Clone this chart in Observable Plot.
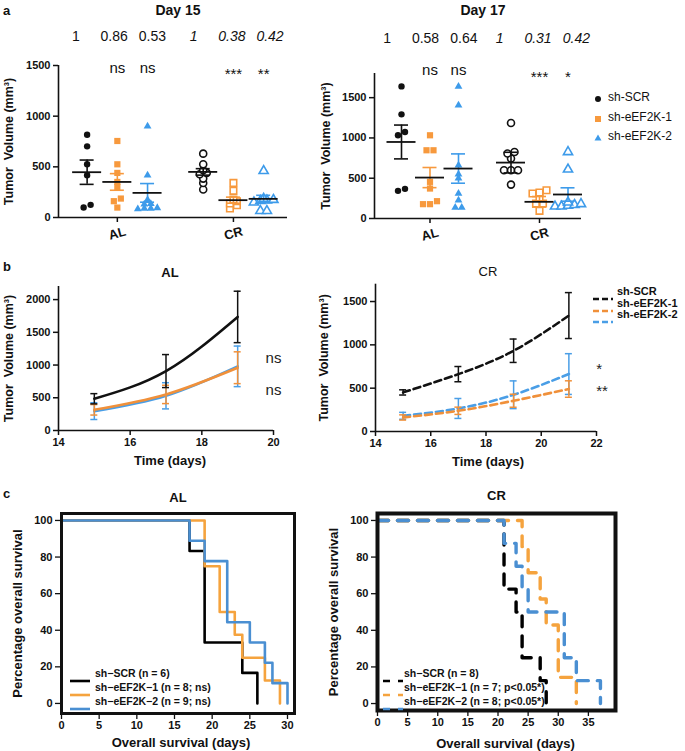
<!DOCTYPE html>
<html><head><meta charset="utf-8">
<script src="https://cdn.jsdelivr.net/npm/d3@7"></script>
<script src="https://cdn.jsdelivr.net/npm/@observablehq/plot@0.6"></script>
<style>
body{margin:0;background:#fff;font-family:"Liberation Sans",Arial,sans-serif;color:#111;}
#root{position:relative;width:685px;height:751px;overflow:hidden;background:#fff;}
</style></head><body><div id="root"></div>
<script>
// ---------- DATA ----------
const SERIES = ["sh-SCR", "sh-eEF2K-1", "sh-eEF2K-2"];
const GROUPS = ["AL", "CR"];
const COL_A = ["#111111", "#F7993D", "#3D9BEA"];
const COL_B = ["#111111", "#F0903A", "#4A9EE6"];
const COL_C = ["#000000", "#F5A33E", "#4A8FD2"];

// Panel a - Day 15 tumour volumes (mm3)
const d15_AL = [[817, 702, 525, 417, 125, 98], [755, 525, 440, 351, 300, 187, 161, 98], [900, 417, 175, 135, 130, 95, 90, 90, 85]];
const d15_CR = [[630, 525, 466, 440, 427, 384, 341, 276], [341, 263, 177, 160, 138, 121, 89], [460, 185, 175, 170, 165, 150, 66, 66]];
const d15_mean = [[447, 351, 243], [450, 171, 184]];
const d15_sem = [[120, 82, 92], [32, 30, 35]];
const d15_ratio = [["1", "0.86", "0.53"], ["1", "0.38", "0.42"]];
const d15_sig = [["", "ns", "ns"], ["", "***", "**"]];

// Panel a - Day 17
const d17_AL = [[1640, 1293, 1074, 1033, 368, 343], [1033, 847, 847, 455, 372, 215, 178, 178], [1640, 1405, 661, 550, 500, 310, 227, 136, 136]];
const d17_CR = [[1186, 826, 806, 744, 599, 599, 599, 421], [351, 322, 310, 260, 186, 186, 95], [826, 610, 200, 180, 170, 160, 150, 150]];
const d17_mean = [[950, 508, 620], [694, 207, 298]];
const d17_sem = [[210, 125, 182], [128, 66, 83]];
const d17_ratio = [["1", "0.58", "0.64"], ["1", "0.31", "0.42"]];
const d17_sig = [["", "ns", "ns"], ["", "***", "*"]];

// Panel b - growth curves
const bAL_days = [15, 17, 19];
const bAL_mean = [[485, 908, 1735], [316, 551, 959], [296, 530, 980]];
const bAL_sem = [[78, 252, 393], [80, 140, 243], [128, 200, 310]];
const bCR_days = [15, 17, 19, 21];
const bCR_mean = [[451, 662, 932, 1338], [162, 239, 355, 490], [181, 266, 424, 663]];
const bCR_sem = [[30, 88, 135, 265], [30, 42, 75, 95], [40, 115, 160, 235]];

// Panel c - Kaplan-Meier survival (%)
const cAL_t = [[0, 17, 19, 24, 26], [0, 19, 21, 23, 24, 27, 29], [0, 17, 19, 22, 25, 27, 28, 30]];
const cAL_s = [[100, 83.3, 33.3, 16.7, 0], [100, 75, 50, 37.5, 25, 12.5, 0], [100, 88.9, 77.8, 44.4, 33.3, 22.2, 11.1, 0]];
const cCR_t = [[0, 21, 23, 24, 27, 28], [0, 24, 25, 27, 28, 30, 33], [0, 21, 23, 24, 25, 31, 33, 37]];
const cCR_s = [[100, 62.5, 50, 25, 12.5, 0], [100, 85.7, 71.4, 57.1, 42.9, 14.3, 0], [100, 87.5, 75, 62.5, 50, 25, 12.5, 0]];
const cAL_legend = ["sh\u2212SCR (n = 6)", "sh\u2212eEF2K\u22121 (n = 8; ns)", "sh\u2212eEF2K\u22122 (n = 9; ns)"];
const cCR_legend = ["sh\u2212SCR (n = 8)", "sh\u2212eEF2K\u22121 (n = 7; p<0.05*)", "sh\u2212eEF2K\u22122 (n = 8; p<0.05*)"];

// ---------- HELPERS ----------
const root = document.getElementById("root");
const FONT = "Liberation Sans, Arial, sans-serif";
const fmtInt = d3.format("d");
function place(el, left, top) {
  el.style.position = "absolute"; el.style.left = left + "px"; el.style.top = top + "px";
  root.appendChild(el);
}
function addText(txt, left, cy, css) {
  const d = document.createElement("div");
  d.textContent = txt;
  d.style.cssText = `position:absolute;left:${left}px;top:${cy}px;transform:translateY(-50%);white-space:nowrap;line-height:1;${css}`;
  root.appendChild(d);
  return d;
}
function addSvg(inner, left, top, w, h) {
  const d = document.createElement("div");
  d.style.cssText = `position:absolute;left:${left}px;top:${top}px;width:${w}px;height:${h}px;`;
  d.innerHTML = `<svg width="${w}" height="${h}" xmlns="http://www.w3.org/2000/svg">${inner}</svg>`;
  root.appendChild(d);
}
// deterministic centred swarm rows derived from the values
function swarm(vals, ky, rowPx, sp) {
  const sorted = vals.slice().sort((a, b) => a - b);
  const rows = []; let cur = null;
  for (const v of sorted) {
    if (!cur || (v - cur.start) * ky > rowPx) { cur = {start: v, items: []}; rows.push(cur); }
    cur.items.push(v);
  }
  const out = [];
  for (const r of rows) r.items.forEach((v, i) => out.push({v, off: (i - (r.items.length - 1) / 2) * sp}));
  return out;
}
const baseStyle = {fontFamily: FONT, fontSize: "11px", color: "#111", background: "transparent", overflow: "visible"};
const TXT = {textAnchor: "middle", lineAnchor: "middle"};

// ---------- PANEL A ----------
const SYMS = ["circle", "square", "triangle"];
const RAD_F = [3.2, 3.5, 2.9];
const RAD_O = [3.5, 3.7, 3.4];
const SPACING = [7, 7, 6.5];
function panelA(o) {
  const kx = (o.W - o.mL - o.mR) / o.xMax;
  const ky = (o.H - o.mT - o.mB) / o.yMax;
  const centers = [1.85, 5.5], step = 0.95;
  const pts = [], stats = [], labs = [];
  [o.AL, o.CR].forEach((grp, gi) => grp.forEach((vals, si) => {
    const pos = centers[gi] + (si - 1) * step;
    swarm(vals, ky, 3.5, SPACING[si]).forEach(p => pts.push({x: pos + p.off / kx, y: p.v, si, open: gi === 1}));
    stats.push({pos, si, m: o.mean[gi][si], e: o.sem[gi][si]});
    labs.push({pos, rpos: centers[gi] + o.ratioShift[gi] + (si - 1) * o.ratioStep, gi, ratio: o.ratio[gi][si], sig: o.sig[gi][si]});
  }));
  const hw = 14.5 / kx, cw = 7 / kx;
  const marks = [
    Plot.ruleX([0], {y1: 0, y2: o.yTop, strokeWidth: 1.6}),
    Plot.ruleY([0], {x1: 0, x2: o.xMax, strokeWidth: 1.6}),
    Plot.axisY({ticks: o.yTicks, tickFormat: fmtInt, tickSize: 5, tickPadding: 3, strokeWidth: 1.5, fontSize: 11, fontWeight: "bold", label: null}),
    Plot.axisX({ticks: centers, tickSize: 5, strokeWidth: 1.5, tickFormat: () => "", label: null}),
    Plot.text(GROUPS, {x: d => centers[GROUPS.indexOf(d)], text: d => d, frameAnchor: "bottom", dy: 16, rotate: -15, fontSize: 13, fontWeight: "bold", ...TXT})
  ];
  SERIES.forEach((name, si) => {
    marks.push(Plot.dot(pts.filter(p => p.si === si && !p.open), {x: "x", y: "y", symbol: SYMS[si], r: RAD_F[si], fill: COL_A[si], stroke: "none"}));
    marks.push(Plot.dot(pts.filter(p => p.si === si && p.open), {x: "x", y: "y", symbol: SYMS[si], r: RAD_O[si], fill: "white", stroke: COL_A[si], strokeWidth: 1.6}));
  });
  SERIES.forEach((name, si) => {
    const st = stats.filter(s => s.si === si);
    marks.push(Plot.ruleX(st, {x: "pos", y1: d => d.m - d.e, y2: d => d.m + d.e, stroke: COL_A[si], strokeWidth: 1.6}));
    marks.push(Plot.ruleY(st, {y: d => d.m + d.e, x1: d => d.pos - cw, x2: d => d.pos + cw, stroke: COL_A[si], strokeWidth: 1.6}));
    marks.push(Plot.ruleY(st, {y: d => d.m - d.e, x1: d => d.pos - cw, x2: d => d.pos + cw, stroke: COL_A[si], strokeWidth: 1.6}));
    marks.push(Plot.ruleY(st, {y: "m", x1: d => d.pos - hw, x2: d => d.pos + hw, stroke: "#111", strokeWidth: 1.8}));
  });
  marks.push(
    Plot.text([o.title], {text: d => d, frameAnchor: "top", dx: o.titleDx, dy: o.titleDy, fontSize: 14, fontWeight: "bold", ...TXT}),
    Plot.text(labs.filter(l => l.gi === 0), {x: "rpos", text: "ratio", frameAnchor: "top", dy: o.ratioDy, fontSize: 14, ...TXT}),
    Plot.text(labs.filter(l => l.gi === 1), {x: "rpos", text: "ratio", frameAnchor: "top", dy: o.ratioDy, fontSize: 14, fontStyle: "italic", ...TXT}),
    Plot.text(labs.filter(l => l.sig === "ns"), {x: "pos", text: "sig", frameAnchor: "top", dy: o.nsDy, fontSize: 15, ...TXT}),
    Plot.text(labs.filter(l => l.sig.startsWith("*")), {x: "pos", text: "sig", frameAnchor: "top", dy: o.starDy, fontSize: 15, ...TXT}),
    Plot.text(["Tumor  Volume (mm\u00B3)"], {text: d => d, frameAnchor: "left", dx: o.ylabDx, rotate: -90, fontSize: 12.5, fontWeight: "bold", ...TXT})
  );
  return Plot.plot({
    width: o.W, height: o.H, marginLeft: o.mL, marginRight: o.mR, marginTop: o.mT, marginBottom: o.mB,
    x: {domain: [0, o.xMax]}, y: {domain: [0, o.yMax]}, style: baseStyle, marks
  });
}

place(panelA({W: 300, H: 245, mL: 58, mR: 13, mT: 65, mB: 28, xMax: 7.2, yMax: 1500, yTop: 1500, yTicks: [0, 500, 1000, 1500],
  AL: d15_AL, CR: d15_CR, mean: d15_mean, sem: d15_sem, ratio: d15_ratio, sig: d15_sig,
  ratioStep: 1.2, ratioShift: [-0.1, -0.05],
  title: "Day 15", titleDx: 5, titleDy: -55, ratioDy: -29, nsDy: 3, starDy: 9, ylabDx: -50}), 0, 0);
place(panelA({W: 385, H: 245, mL: 74, mR: 104, mT: 73, mB: 27, xMax: 6.9, yMax: 1800, yTop: 1800, yTicks: [0, 500, 1000, 1500],
  AL: d17_AL, CR: d17_CR, mean: d17_mean, sem: d17_sem, ratio: d17_ratio, sig: d17_sig,
  ratioStep: 1.28, ratioShift: [-0.15, -0.05],
  title: "Day 17", titleDx: 5, titleDy: -63, ratioDy: -35, nsDy: -3, starDy: 4, ylabDx: -49}), 300, 0);

// legend a
SERIES.forEach((name, si) => {
  const cy = [97, 117, 136][si];
  const sym = si === 0 ? `<circle cx="6" cy="6" r="3" fill="${COL_A[0]}"/>` :
    si === 1 ? `<rect x="3" y="3" width="6" height="6" fill="${COL_A[1]}"/>` :
    `<path d="M6,2.5 L9.5,8.5 L2.5,8.5 Z" fill="${COL_A[2]}"/>`;
  addSvg(sym, 592, cy - 6, 12, 12);
  addText(name, 608, cy, "font-size:12px;");
});

// ---------- PANEL B ----------
function panelB(o) {
  const kx = (o.W - o.mL - o.mR) / (o.xMax - o.xMin);
  const cw = 3.5 / kx;
  const marks = [
    Plot.ruleX([o.xMin], {y1: 0, y2: o.yMax, strokeWidth: 1.6}),
    Plot.ruleY([0], {x1: o.xMin, x2: o.xMax, strokeWidth: 1.6}),
    Plot.axisY({ticks: o.yTicks, tickFormat: fmtInt, tickSize: 5, tickPadding: 3, strokeWidth: 1.5, fontSize: 11, fontWeight: "bold", label: null}),
    Plot.axisX({ticks: o.xTicks, tickFormat: fmtInt, tickSize: 5, tickPadding: 3, strokeWidth: 1.5, fontSize: 11, fontWeight: "bold", label: null})
  ];
  [2, 1, 0].forEach(si => {
    const rows = o.days.map((t, i) => ({t, m: o.mean[si][i], e: o.sem[si][i]}));
    const c = COL_B[si];
    marks.push(Plot.ruleX(rows, {x: "t", y1: d => d.m - d.e, y2: d => d.m + d.e, stroke: c, strokeWidth: 1.5}));
    marks.push(Plot.ruleY(rows, {y: d => d.m + d.e, x1: d => d.t - cw, x2: d => d.t + cw, stroke: c, strokeWidth: 1.5}));
    marks.push(Plot.ruleY(rows, {y: d => d.m - d.e, x1: d => d.t - cw, x2: d => d.t + cw, stroke: c, strokeWidth: 1.5}));
    marks.push(Plot.line(rows, {x: "t", y: "m", stroke: c, strokeWidth: 2.6, curve: "natural", strokeDasharray: o.dash}));
  });
  marks.push(
    Plot.text([o.title], {text: d => d, frameAnchor: "top", dx: o.titleDx, dy: o.titleDy, fontSize: 13, fontWeight: o.titleWeight, ...TXT}),
    Plot.text(["Time (days)"], {text: d => d, frameAnchor: "bottom", dx: o.titleDx, dy: 30, fontSize: 13, fontWeight: "bold", ...TXT}),
    Plot.text(["Tumor  Volume (mm\u00B3)"], {text: d => d, frameAnchor: "left", dx: o.ylabDx, rotate: -90, fontSize: 12.5, fontWeight: "bold", ...TXT}),
    Plot.text(o.sigs, {x: "x", y: "y", text: "t", fontSize: 15, fill: "#222", ...TXT})
  );
  return Plot.plot({
    width: o.W, height: o.H, marginLeft: o.mL, marginRight: o.mR, marginTop: o.mT, marginBottom: o.mB,
    x: {domain: [o.xMin, o.xMax]}, y: {domain: [0, o.yMax]}, style: baseStyle, marks
  });
}
place(panelB({W: 300, H: 230, mL: 58, mR: 27, mT: 41, mB: 45, xMin: 14, xMax: 20, yMax: 2200,
  yTicks: [0, 500, 1000, 1500, 2000], xTicks: [14, 16, 18, 20], days: bAL_days, mean: bAL_mean, sem: bAL_sem,
  dash: null, title: "AL", titleWeight: "bold", titleDx: 4, titleDy: -14, ylabDx: -50,
  sigs: [{x: 20, y: 1100, t: "ns"}, {x: 20, y: 620, t: "ns"}]}), 0, 245);
place(panelB({W: 385, H: 230, mL: 75, mR: 89, mT: 38.7, mB: 44, xMin: 14, xMax: 22, yMax: 1700,
  yTicks: [0, 500, 1000, 1500], xTicks: [14, 16, 18, 20, 22], days: bCR_days, mean: bCR_mean, sem: bCR_sem,
  dash: "7,4", title: "CR", titleWeight: "normal", titleDx: 2, titleDy: -12, ylabDx: -52,
  sigs: [{x: 22.1, y: 720, t: "*"}, {x: 22.2, y: 470, t: "**"}]}), 300, 245);

// legend b
SERIES.forEach((name, si) => {
  const cy = [291, 302.5, 314][si];
  addSvg(`<line x1="0" y1="3" x2="20" y2="3" stroke="${COL_B[si]}" stroke-width="2.6" stroke-dasharray="6,3"/>`, 593, cy - 3, 20, 6);
  addText(name, 617, cy, "font-size:11px;font-weight:bold;");
});

// ---------- PANEL C ----------
function panelC(o) {
  const marks = [
    Plot.axisX({ticks: o.xTicks, tickFormat: fmtInt, tickSize: 6, tickPadding: 2, strokeWidth: 1.3, fontSize: 11, fontWeight: "bold", label: null}),
    Plot.axisY({ticks: [0, 20, 40, 60, 80, 100], tickFormat: fmtInt, tickSize: 6, tickPadding: 3, strokeWidth: 1.3, fontSize: 11, fontWeight: "bold", label: null})
  ];
  [0, 1, 2].forEach(si => {
    const rows = o.t[si].map((t, i) => ({t, s: o.s[si][i]}));
    marks.push(Plot.line(rows, {x: "t", y: "s", curve: "step-after", stroke: COL_C[si], strokeWidth: o.lw, strokeDasharray: o.dash}));
  });
  marks.push(
    Plot.frame({strokeWidth: o.frameW}),
    Plot.text([o.title], {text: d => d, frameAnchor: "top", dy: o.titleDy, fontSize: 13, fontWeight: "bold", ...TXT}),
    Plot.text(["Overall survival (days)"], {text: d => d, frameAnchor: "bottom", dx: o.xlabDx, dy: o.xlabDy, fontSize: 13, fontWeight: "bold", ...TXT}),
    Plot.text(["Percentage overall survival"], {text: d => d, frameAnchor: "left", dx: -44, rotate: -90, fontSize: 13, fontWeight: "bold", ...TXT})
  );
  return Plot.plot({
    width: o.W, height: o.H, marginLeft: o.mL, marginRight: o.mR, marginTop: o.mT, marginBottom: o.mB,
    x: {domain: o.xDomain}, y: {domain: o.yDomain}, style: baseStyle, marks
  });
}
place(panelC({W: 300, H: 271, mL: 61, mR: 6, mT: 33, mB: 38, xDomain: [0, 30.93], yDomain: [-5.5, 103.8],
  xTicks: [0, 5, 10, 15, 20, 25, 30], t: cAL_t, s: cAL_s, lw: 2.6, dash: null, frameW: 3,
  title: "AL", titleDy: -16, xlabDx: 3, xlabDy: 29}), 0, 480);
place(panelC({W: 385, H: 271, mL: 77, mR: 70, mT: 33, mB: 41, xDomain: [0, 39.5], yDomain: [-3.8, 103.8],
  xTicks: [0, 5, 10, 15, 20, 25, 30, 35], t: cCR_t, s: cCR_s, lw: 3.4, dash: "11,9", frameW: 4,
  title: "CR", titleDy: -18, xlabDx: 9, xlabDy: 33}), 300, 480);

// legends c
cAL_legend.forEach((txt, si) => {
  const cy = [673, 687, 700.5][si];
  addSvg(`<line x1="0" y1="3" x2="20" y2="3" stroke="${COL_C[si]}" stroke-width="2.6"/>`, 70, cy - 3, 20, 6);
  addText(txt, 95, cy, "font-size:10.5px;font-weight:bold;");
});
cCR_legend.forEach((txt, si) => {
  const cy = [673, 687, 701][si];
  addSvg(`<line x1="0" y1="3" x2="20" y2="3" stroke="${COL_C[si]}" stroke-width="2.6" stroke-dasharray="7,8"/>`, 383, cy - 3, 20, 6);
  addText(txt, 404, cy, "font-size:10.5px;font-weight:bold;");
});

// panel letters
addText("a", 3, 10, "font-size:13px;font-weight:bold;");
addText("b", 3, 266, "font-size:13px;font-weight:bold;");
addText("c", 3, 493, "font-size:13px;font-weight:bold;");
</script></body></html>
